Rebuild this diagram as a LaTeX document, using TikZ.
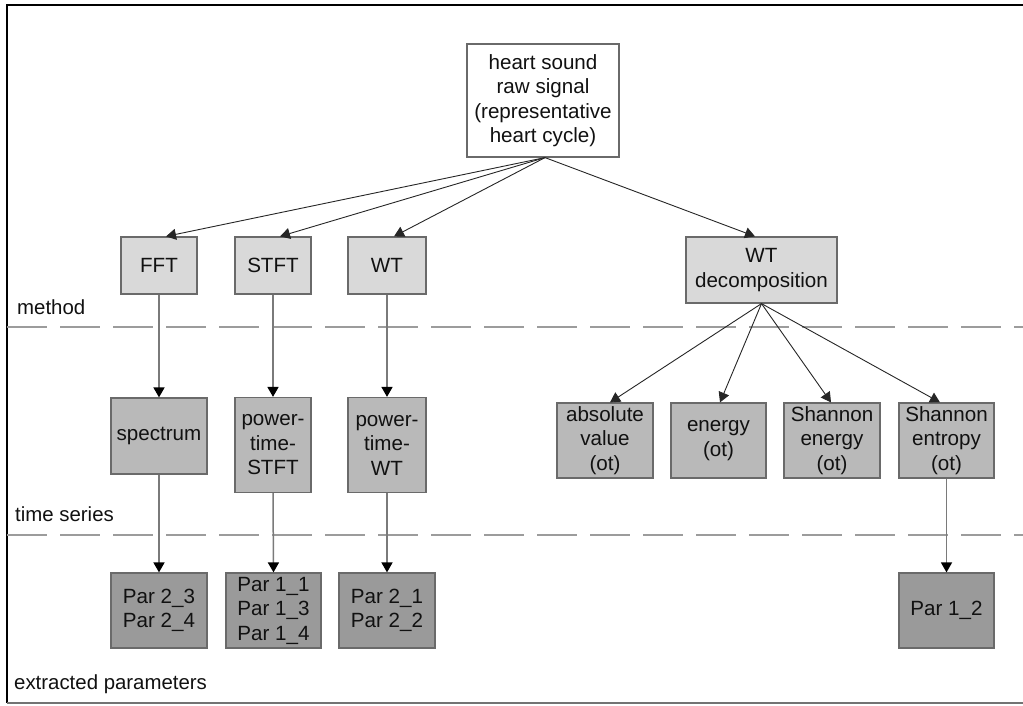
\documentclass[tikz,border=0pt]{standalone}
\usepackage{fontspec}
\setmainfont{Liberation Sans}
\usetikzlibrary{arrows.meta}
\definecolor{boxline}{HTML}{6A6A6A}
\definecolor{lvlA}{HTML}{D9D9D9}
\definecolor{lvlB}{HTML}{B9B9B9}
\definecolor{lvlC}{HTML}{9A9A9A}
\definecolor{txt}{HTML}{111111}
\definecolor{dashgray}{HTML}{9C9C9C}
\definecolor{vline}{HTML}{7A7A7A}
\tikzset{
  box/.style={draw=boxline, line width=1.2pt, inner sep=0pt, align=center,
    text=txt, font=\fontsize{20.6}{24.5}\selectfont},
  topbox/.style={box, fill=white},
  methbox/.style={box, fill=lvlA},
  tsbox/.style={box, fill=lvlB},
  parbox/.style={box, fill=lvlC},
  diag/.style={draw=black!85, line width=0.9pt, -{Triangle[width=11pt,length=10pt]}},
  vert/.style={draw=vline, line width=1.5pt, -{Triangle[width=11pt,length=10pt,color=black,fill=black]}},
  sep/.style={draw=dashgray, line width=1.5pt, dash pattern=on 40pt off 13pt},
  lbl/.style={anchor=base west, inner sep=0pt, text=txt, font=\fontsize{20.4}{24}\selectfont},
}
\begin{document}
\begin{tikzpicture}[x=1pt,y=-1pt]
\useasboundingbox (0,0) rectangle (1023,705);
% frame
\draw[line width=1.6pt, black] (1023,5) -- (7,5) -- (7,703);
\draw[line width=1.6pt, black!55] (7,703) -- (1023,703);
% separators
\coordinate (s1a) at (7,327);
\coordinate (s1b) at (1023,327);
\coordinate (s2a) at (7,535);
\coordinate (s2b) at (1023,535);
\draw[sep] (s1a) -- (s1b);
\draw[sep] (s2a) -- (s2b);
% labels
\node[lbl] (lm) at (17,314) {method};
\node[lbl] (lt) at (15,521) {time series};
\node[lbl] (le) at (14,689) {extracted parameters};
% nodes
\node[topbox, minimum width=152pt, minimum height=113pt] (top) at (543,100.5)
  {heart sound\\raw signal\\(representative\\heart cycle)};
\node[methbox, minimum width=76pt, minimum height=57pt] (fft) at (159,265.5) {FFT};
\node[methbox, minimum width=76pt, minimum height=57pt] (stft) at (273,265.5) {STFT};
\node[methbox, minimum width=78pt, minimum height=57pt] (wt) at (387,265.5) {WT};
\node[methbox, minimum width=151pt, minimum height=66pt] (wtd) at (761.5,270) {WT\\decomposition};
\node[tsbox, minimum width=96pt, minimum height=76pt] (spec) at (159,436) {spectrum};
\node[tsbox, minimum width=76pt, minimum height=95pt] (pts) at (273,445) {power-\\time-\\STFT};
\node[tsbox, minimum width=78pt, minimum height=95pt] (ptw) at (387,445) {power-\\time-\\WT};
\node[tsbox, minimum width=96pt, minimum height=75pt] (abs) at (605,440.5) {absolute\\value\\(ot)};
\node[tsbox, minimum width=95pt, minimum height=75pt] (en) at (718.5,440.5) {energy\\(ot)};
\node[tsbox, minimum width=96pt, minimum height=75pt] (se) at (832,440.5) {Shannon\\energy\\(ot)};
\node[tsbox, minimum width=95pt, minimum height=75pt] (sent) at (946.5,440.5) {Shannon\\entropy\\(ot)};
\node[parbox, minimum width=96pt, minimum height=75pt] (p23) at (159,610.5) {Par 2\_3\\Par 2\_4};
\node[parbox, minimum width=95pt, minimum height=75pt] (p11) at (273.5,610.5) {Par 1\_1\\Par 1\_3\\Par 1\_4};
\node[parbox, minimum width=96pt, minimum height=75pt] (p21) at (387,610.5) {Par 2\_1\\Par 2\_2};
\node[parbox, minimum width=95pt, minimum height=75pt] (p12) at (946.5,610.5) {Par 1\_2};
% connectors from top
\draw[diag] ([xshift=2pt]top.south) -- ([xshift=7pt]fft.north);
\draw[diag] ([xshift=2pt]top.south) -- ([xshift=7pt]stft.north);
\draw[diag] ([xshift=2pt]top.south) -- ([xshift=7pt]wt.north);
\draw[diag] ([xshift=2pt]top.south) -- ([xshift=-6.5pt]wtd.north);
% from wt decomposition
\draw[diag] (wtd.south) -- ([xshift=5pt]abs.north);
\draw[diag] (wtd.south) -- ([xshift=1.5pt]en.north);
\draw[diag] (wtd.south) -- ([xshift=-1pt]se.north);
\draw[diag] (wtd.south) -- ([xshift=-6.5pt]sent.north);
% verticals
\draw[vert] (fft.south) -- (spec.north);
\draw[vert] (stft.south) -- (pts.north);
\draw[vert] (wt.south) -- (ptw.north);
\draw[vert] (spec.south) -- (p23.north);
\draw[vert] (pts.south) -- (p11.north);
\draw[vert] (ptw.south) -- (p21.north);
\draw[vert] (sent.south) -- (p12.north);
\end{tikzpicture}
\end{document}
